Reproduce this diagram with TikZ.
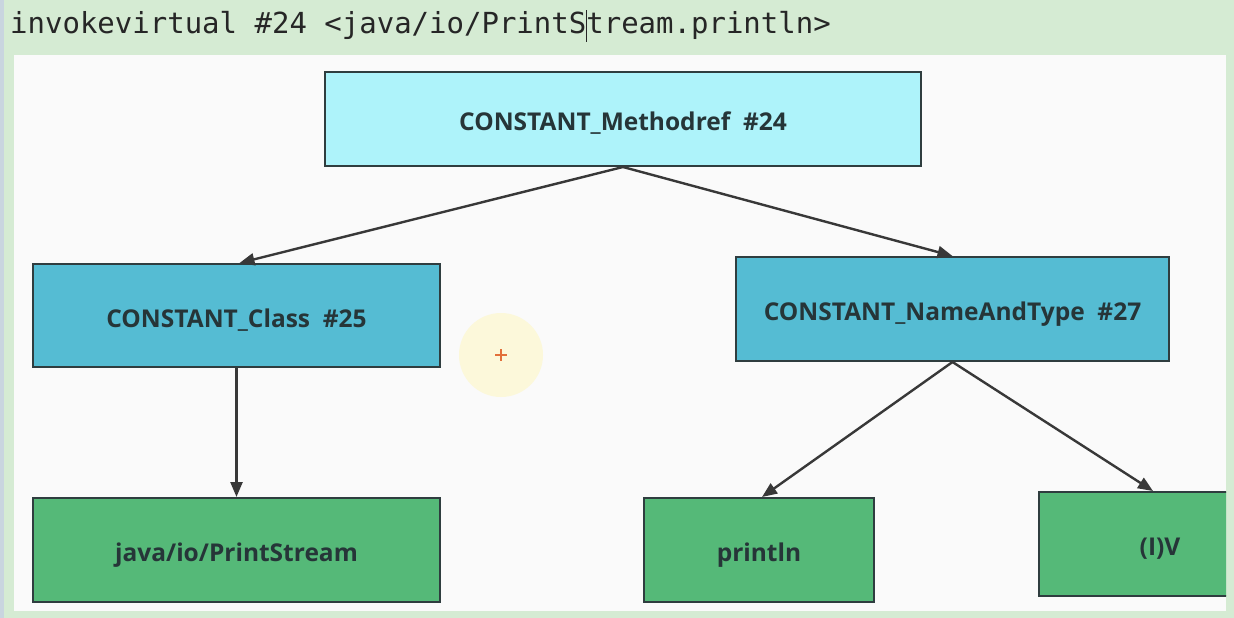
\documentclass[tikz,border=0pt]{standalone}
\usepackage{fontspec}
\usetikzlibrary{arrows.meta}
\newfontfamily\boxfont{Open Sans}
\newfontfamily\codefont{DejaVu Sans Mono}
\definecolor{bggreen}{HTML}{D5EBD3}
\definecolor{leftstrip}{HTML}{C9D5DF}
\definecolor{panel}{HTML}{FAFAFA}
\definecolor{cyanlight}{HTML}{AEF3FA}
\definecolor{cyanmid}{HTML}{55BCD3}
\definecolor{greenbox}{HTML}{55B978}
\definecolor{edge}{HTML}{2F3D3F}
\definecolor{txt}{HTML}{263538}
\definecolor{arrowc}{HTML}{383838}
\definecolor{hilite}{HTML}{FCF8DA}
\definecolor{plusc}{HTML}{E2703A}
\tikzset{
  cbox/.style={draw=edge, line width=2pt, inner sep=0pt, text height=23pt, text depth=0pt,
    font=\boxfont\bfseries\fontsize{24.5}{27}\selectfont, text=txt},
  conn/.style={draw=arrowc, line width=2.4pt, -{Triangle[length=15pt,width=12pt]}},
}
\begin{document}
\begin{tikzpicture}[x=1pt,y=-1pt]
\useasboundingbox (0,0) rectangle (1234,618);
\fill[bggreen] (0,0) rectangle (1234,618);
\fill[leftstrip] (0,0) rectangle (4,618);
\fill[panel] (14,55) rectangle (1226,611);
% header text
\node[anchor=base west, inner sep=0pt, font=\codefont\fontsize{29}{32}\selectfont, text=black!85] (hdr) at (10,34)
  {invokevirtual \#24 <java/io/PrintS\makebox[0pt]{\rule[-8pt]{1.6pt}{32pt}}tream.println>};
% mouse highlight
\fill[hilite] (501,355) circle (42);
\draw[plusc, line width=1.6pt] (495,355) -- (507,355) (501,349) -- (501,361);
% boxes
\node[cbox, fill=cyanlight, minimum width=596pt, minimum height=94pt] (mref) at (623,119) {CONSTANT\_Methodref\ \ \#24};
\node[cbox, fill=cyanmid, minimum width=407pt, minimum height=103pt] (cls) at (236.5,315.5) {CONSTANT\_Class\ \ \#25};
\node[cbox, fill=cyanmid, minimum width=433pt, minimum height=104pt] (nat) at (952.5,309) {CONSTANT\_NameAndType\ \ \#27};
\node[cbox, fill=greenbox, minimum width=407pt, minimum height=104pt] (ps) at (236.5,550) {java/io/PrintStream};
\node[cbox, fill=greenbox, minimum width=230pt, minimum height=104pt] (pl) at (759,550) {println};
\begin{scope}
\clip (14,55) rectangle (1226,611);
\node[cbox, fill=greenbox, minimum width=242pt, minimum height=104pt] (iv) at (1160,544) {(I)V};
\end{scope}
% connectors
\draw[conn] (mref.south) -- ([xshift=3pt]cls.north);
\draw[conn] (mref.south) -- (nat.north);
\draw[conn] (cls.south) -- (ps.north);
\draw[conn] (nat.south) -- ([xshift=3pt]pl.north);
\draw[conn] (nat.south) -- ([xshift=-7pt]iv.north);
\end{tikzpicture}
\end{document}
